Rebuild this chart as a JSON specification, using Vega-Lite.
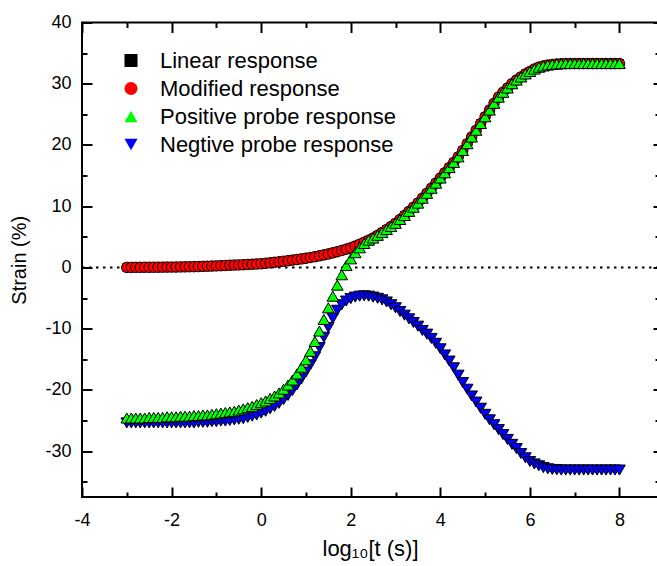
{
  "$schema": "https://vega.github.io/schema/vega-lite/v6.json",
  "autosize": {"type": "none"},
  "padding": {"left": 82, "top": 22.5, "right": 0, "bottom": 69},
  "width": 576,
  "height": 474.5,
  "background": "white",
  "config": {
    "view": {"stroke": "black", "strokeWidth": 2},
    "axis": {
      "domain": false, "tickColor": "black", "tickWidth": 2, "labelFlush": false,
      "labelFont": "Liberation Sans", "labelFontSize": 18, "labelColor": "black",
      "titleFont": "Liberation Sans", "titleFontWeight": "normal", "titleColor": "black",
      "grid": false
    },
    "legend": {
      "orient": "none", "legendX": 38, "legendY": 27, "title": null, "padding": 0,
      "labelFont": "Liberation Sans", "labelFontSize": 22, "labelColor": "black", "labelLimit": 400,
      "labelOffset": 18, "rowPadding": 6, "symbolSize": 170, "symbolStrokeColor": "black",
      "symbolStrokeWidth": 1, "symbolOpacity": 1
    }
  },
  "datasets": {
    "pts": [
{"s":"L","x":-3,"y":0},{"s":"L","x":-2.9,"y":0},{"s":"L","x":-2.8,"y":0.01},{"s":"L","x":-2.7,"y":0.01},{"s":"L","x":-2.6,"y":0.02},{"s":"L","x":-2.5,"y":0.02},{"s":"L","x":-2.4,"y":0.03},{"s":"L","x":-2.3,"y":0.03},{"s":"L","x":-2.2,"y":0.04},{"s":"L","x":-2.1,"y":0.05},
{"s":"L","x":-2,"y":0.05},{"s":"L","x":-1.9,"y":0.06},{"s":"L","x":-1.8,"y":0.08},{"s":"L","x":-1.7,"y":0.09},{"s":"L","x":-1.6,"y":0.11},{"s":"L","x":-1.5,"y":0.12},{"s":"L","x":-1.4,"y":0.14},{"s":"L","x":-1.3,"y":0.17},{"s":"L","x":-1.2,"y":0.19},{"s":"L","x":-1.1,"y":0.22},
{"s":"L","x":-1,"y":0.25},{"s":"L","x":-0.9,"y":0.28},{"s":"L","x":-0.8,"y":0.31},{"s":"L","x":-0.7,"y":0.35},{"s":"L","x":-0.6,"y":0.38},{"s":"L","x":-0.5,"y":0.41},{"s":"L","x":-0.4,"y":0.44},{"s":"L","x":-0.3,"y":0.48},{"s":"L","x":-0.2,"y":0.52},{"s":"L","x":-0.1,"y":0.56},
{"s":"L","x":0,"y":0.6},{"s":"L","x":0.1,"y":0.67},{"s":"L","x":0.2,"y":0.75},{"s":"L","x":0.3,"y":0.83},{"s":"L","x":0.4,"y":0.91},{"s":"L","x":0.5,"y":1},{"s":"L","x":0.6,"y":1.09},{"s":"L","x":0.7,"y":1.19},{"s":"L","x":0.8,"y":1.29},{"s":"L","x":0.9,"y":1.39},
{"s":"L","x":1,"y":1.5},{"s":"L","x":1.1,"y":1.62},{"s":"L","x":1.2,"y":1.75},{"s":"L","x":1.3,"y":1.89},{"s":"L","x":1.4,"y":2.04},{"s":"L","x":1.5,"y":2.2},{"s":"L","x":1.6,"y":2.38},{"s":"L","x":1.7,"y":2.57},{"s":"L","x":1.8,"y":2.77},{"s":"L","x":1.9,"y":2.98},
{"s":"L","x":2,"y":3.2},{"s":"L","x":2.1,"y":3.48},{"s":"L","x":2.2,"y":3.78},{"s":"L","x":2.3,"y":4.1},{"s":"L","x":2.4,"y":4.44},{"s":"L","x":2.5,"y":4.8},{"s":"L","x":2.6,"y":5.24},{"s":"L","x":2.7,"y":5.7},{"s":"L","x":2.8,"y":6.18},{"s":"L","x":2.9,"y":6.68},
{"s":"L","x":3,"y":7.2},{"s":"L","x":3.1,"y":7.83},{"s":"L","x":3.2,"y":8.48},{"s":"L","x":3.3,"y":9.15},{"s":"L","x":3.4,"y":9.82},{"s":"L","x":3.5,"y":10.5},{"s":"L","x":3.6,"y":11.3},{"s":"L","x":3.7,"y":12.1},{"s":"L","x":3.8,"y":12.93},{"s":"L","x":3.9,"y":13.76},
{"s":"L","x":4,"y":14.6},{"s":"L","x":4.1,"y":15.45},{"s":"L","x":4.2,"y":16.3},{"s":"L","x":4.3,"y":17.15},{"s":"L","x":4.4,"y":18.05},{"s":"L","x":4.5,"y":19.1},{"s":"L","x":4.6,"y":20.2},{"s":"L","x":4.7,"y":21.3},{"s":"L","x":4.8,"y":22.4},{"s":"L","x":4.9,"y":23.5},
{"s":"L","x":5,"y":24.6},{"s":"L","x":5.1,"y":25.7},{"s":"L","x":5.2,"y":26.8},{"s":"L","x":5.3,"y":27.8},{"s":"L","x":5.4,"y":28.6},{"s":"L","x":5.5,"y":29.3},{"s":"L","x":5.6,"y":30},{"s":"L","x":5.7,"y":30.6},{"s":"L","x":5.8,"y":31.1},{"s":"L","x":5.9,"y":31.6},
{"s":"L","x":6,"y":32},{"s":"L","x":6.1,"y":32.4},{"s":"L","x":6.2,"y":32.7},{"s":"L","x":6.3,"y":32.9},{"s":"L","x":6.4,"y":33.05},{"s":"L","x":6.5,"y":33.15},{"s":"L","x":6.6,"y":33.22},{"s":"L","x":6.7,"y":33.27},{"s":"L","x":6.8,"y":33.3},{"s":"L","x":6.9,"y":33.3},
{"s":"L","x":7,"y":33.3},{"s":"L","x":7.1,"y":33.3},{"s":"L","x":7.2,"y":33.3},{"s":"L","x":7.3,"y":33.3},{"s":"L","x":7.4,"y":33.3},{"s":"L","x":7.5,"y":33.3},{"s":"L","x":7.6,"y":33.3},{"s":"L","x":7.7,"y":33.3},{"s":"L","x":7.8,"y":33.3},{"s":"L","x":7.9,"y":33.3},{"s":"L","x":8,"y":33.3},

{"s":"M","x":-3,"y":0},{"s":"M","x":-2.9,"y":0},{"s":"M","x":-2.8,"y":0.01},{"s":"M","x":-2.7,"y":0.01},{"s":"M","x":-2.6,"y":0.02},{"s":"M","x":-2.5,"y":0.02},{"s":"M","x":-2.4,"y":0.03},{"s":"M","x":-2.3,"y":0.03},{"s":"M","x":-2.2,"y":0.04},{"s":"M","x":-2.1,"y":0.05},
{"s":"M","x":-2,"y":0.05},{"s":"M","x":-1.9,"y":0.06},{"s":"M","x":-1.8,"y":0.08},{"s":"M","x":-1.7,"y":0.09},{"s":"M","x":-1.6,"y":0.11},{"s":"M","x":-1.5,"y":0.12},{"s":"M","x":-1.4,"y":0.14},{"s":"M","x":-1.3,"y":0.17},{"s":"M","x":-1.2,"y":0.19},{"s":"M","x":-1.1,"y":0.22},
{"s":"M","x":-1,"y":0.25},{"s":"M","x":-0.9,"y":0.28},{"s":"M","x":-0.8,"y":0.31},{"s":"M","x":-0.7,"y":0.35},{"s":"M","x":-0.6,"y":0.38},{"s":"M","x":-0.5,"y":0.41},{"s":"M","x":-0.4,"y":0.44},{"s":"M","x":-0.3,"y":0.48},{"s":"M","x":-0.2,"y":0.52},{"s":"M","x":-0.1,"y":0.56},
{"s":"M","x":0,"y":0.6},{"s":"M","x":0.1,"y":0.67},{"s":"M","x":0.2,"y":0.75},{"s":"M","x":0.3,"y":0.83},{"s":"M","x":0.4,"y":0.91},{"s":"M","x":0.5,"y":1},{"s":"M","x":0.6,"y":1.09},{"s":"M","x":0.7,"y":1.19},{"s":"M","x":0.8,"y":1.29},{"s":"M","x":0.9,"y":1.39},
{"s":"M","x":1,"y":1.5},{"s":"M","x":1.1,"y":1.62},{"s":"M","x":1.2,"y":1.75},{"s":"M","x":1.3,"y":1.89},{"s":"M","x":1.4,"y":2.04},{"s":"M","x":1.5,"y":2.2},{"s":"M","x":1.6,"y":2.38},{"s":"M","x":1.7,"y":2.57},{"s":"M","x":1.8,"y":2.77},{"s":"M","x":1.9,"y":2.98},
{"s":"M","x":2,"y":3.2},{"s":"M","x":2.1,"y":3.48},{"s":"M","x":2.2,"y":3.78},{"s":"M","x":2.3,"y":4.1},{"s":"M","x":2.4,"y":4.44},{"s":"M","x":2.5,"y":4.8},{"s":"M","x":2.6,"y":5.24},{"s":"M","x":2.7,"y":5.7},{"s":"M","x":2.8,"y":6.18},{"s":"M","x":2.9,"y":6.68},
{"s":"M","x":3,"y":7.2},{"s":"M","x":3.1,"y":7.83},{"s":"M","x":3.2,"y":8.48},{"s":"M","x":3.3,"y":9.15},{"s":"M","x":3.4,"y":9.82},{"s":"M","x":3.5,"y":10.5},{"s":"M","x":3.6,"y":11.3},{"s":"M","x":3.7,"y":12.1},{"s":"M","x":3.8,"y":12.93},{"s":"M","x":3.9,"y":13.76},
{"s":"M","x":4,"y":14.6},{"s":"M","x":4.1,"y":15.45},{"s":"M","x":4.2,"y":16.3},{"s":"M","x":4.3,"y":17.15},{"s":"M","x":4.4,"y":18.05},{"s":"M","x":4.5,"y":19.1},{"s":"M","x":4.6,"y":20.2},{"s":"M","x":4.7,"y":21.3},{"s":"M","x":4.8,"y":22.4},{"s":"M","x":4.9,"y":23.5},
{"s":"M","x":5,"y":24.6},{"s":"M","x":5.1,"y":25.7},{"s":"M","x":5.2,"y":26.8},{"s":"M","x":5.3,"y":27.8},{"s":"M","x":5.4,"y":28.6},{"s":"M","x":5.5,"y":29.3},{"s":"M","x":5.6,"y":30},{"s":"M","x":5.7,"y":30.6},{"s":"M","x":5.8,"y":31.1},{"s":"M","x":5.9,"y":31.6},
{"s":"M","x":6,"y":32},{"s":"M","x":6.1,"y":32.4},{"s":"M","x":6.2,"y":32.7},{"s":"M","x":6.3,"y":32.9},{"s":"M","x":6.4,"y":33.05},{"s":"M","x":6.5,"y":33.15},{"s":"M","x":6.6,"y":33.22},{"s":"M","x":6.7,"y":33.27},{"s":"M","x":6.8,"y":33.3},{"s":"M","x":6.9,"y":33.3},
{"s":"M","x":7,"y":33.3},{"s":"M","x":7.1,"y":33.3},{"s":"M","x":7.2,"y":33.3},{"s":"M","x":7.3,"y":33.3},{"s":"M","x":7.4,"y":33.3},{"s":"M","x":7.5,"y":33.3},{"s":"M","x":7.6,"y":33.3},{"s":"M","x":7.7,"y":33.3},{"s":"M","x":7.8,"y":33.3},{"s":"M","x":7.9,"y":33.3},{"s":"M","x":8,"y":33.3},

{"s":"N","x":-3,"y":-25.4},{"s":"N","x":-2.9,"y":-25.4},{"s":"N","x":-2.8,"y":-25.4},{"s":"N","x":-2.7,"y":-25.4},{"s":"N","x":-2.6,"y":-25.4},{"s":"N","x":-2.5,"y":-25.4},{"s":"N","x":-2.4,"y":-25.4},{"s":"N","x":-2.3,"y":-25.4},{"s":"N","x":-2.2,"y":-25.4},{"s":"N","x":-2.1,"y":-25.4},
{"s":"N","x":-2,"y":-25.4},{"s":"N","x":-1.9,"y":-25.4},{"s":"N","x":-1.8,"y":-25.4},{"s":"N","x":-1.7,"y":-25.4},{"s":"N","x":-1.6,"y":-25.4},{"s":"N","x":-1.5,"y":-25.4},{"s":"N","x":-1.4,"y":-25.3},{"s":"N","x":-1.3,"y":-25.3},{"s":"N","x":-1.2,"y":-25.3},{"s":"N","x":-1.1,"y":-25.2},
{"s":"N","x":-1,"y":-25.2},{"s":"N","x":-0.9,"y":-25.1},{"s":"N","x":-0.8,"y":-25.1},{"s":"N","x":-0.7,"y":-25},{"s":"N","x":-0.6,"y":-24.9},{"s":"N","x":-0.5,"y":-24.8},{"s":"N","x":-0.4,"y":-24.7},{"s":"N","x":-0.3,"y":-24.5},{"s":"N","x":-0.2,"y":-24.3},{"s":"N","x":-0.1,"y":-24.1},
{"s":"N","x":0,"y":-23.8},{"s":"N","x":0.1,"y":-23.5},{"s":"N","x":0.2,"y":-23.1},{"s":"N","x":0.3,"y":-22.7},{"s":"N","x":0.4,"y":-22.2},{"s":"N","x":0.5,"y":-21.6},{"s":"N","x":0.6,"y":-20.9},{"s":"N","x":0.7,"y":-20.1},{"s":"N","x":0.8,"y":-19.2},{"s":"N","x":0.9,"y":-18.2},
{"s":"N","x":1,"y":-17.1},{"s":"N","x":1.1,"y":-15.9},{"s":"N","x":1.2,"y":-14.6},{"s":"N","x":1.3,"y":-13.1},{"s":"N","x":1.4,"y":-11.4},{"s":"N","x":1.5,"y":-9.8},{"s":"N","x":1.6,"y":-8.3},{"s":"N","x":1.7,"y":-7},{"s":"N","x":1.8,"y":-6.1},{"s":"N","x":1.9,"y":-5.5},
{"s":"N","x":2,"y":-5.1},{"s":"N","x":2.1,"y":-4.85},{"s":"N","x":2.2,"y":-4.7},{"s":"N","x":2.3,"y":-4.65},{"s":"N","x":2.4,"y":-4.7},{"s":"N","x":2.5,"y":-4.85},{"s":"N","x":2.6,"y":-5.05},{"s":"N","x":2.7,"y":-5.3},{"s":"N","x":2.8,"y":-5.65},{"s":"N","x":2.9,"y":-6.1},
{"s":"N","x":3,"y":-6.6},{"s":"N","x":3.1,"y":-7.2},{"s":"N","x":3.2,"y":-7.8},{"s":"N","x":3.3,"y":-8.4},{"s":"N","x":3.4,"y":-9},{"s":"N","x":3.5,"y":-9.6},{"s":"N","x":3.6,"y":-10.3},{"s":"N","x":3.7,"y":-10.9},{"s":"N","x":3.8,"y":-11.6},{"s":"N","x":3.9,"y":-12.4},
{"s":"N","x":4,"y":-13.3},{"s":"N","x":4.1,"y":-14.3},{"s":"N","x":4.2,"y":-15.3},{"s":"N","x":4.3,"y":-16.4},{"s":"N","x":4.4,"y":-17.6},{"s":"N","x":4.5,"y":-18.8},{"s":"N","x":4.6,"y":-19.9},{"s":"N","x":4.7,"y":-21},{"s":"N","x":4.8,"y":-22},{"s":"N","x":4.9,"y":-23},
{"s":"N","x":5,"y":-24},{"s":"N","x":5.1,"y":-24.9},{"s":"N","x":5.2,"y":-25.7},{"s":"N","x":5.3,"y":-26.5},{"s":"N","x":5.4,"y":-27.3},{"s":"N","x":5.5,"y":-28.1},{"s":"N","x":5.6,"y":-28.9},{"s":"N","x":5.7,"y":-29.6},{"s":"N","x":5.8,"y":-30.4},{"s":"N","x":5.9,"y":-31.1},
{"s":"N","x":6,"y":-31.7},{"s":"N","x":6.1,"y":-32.1},{"s":"N","x":6.2,"y":-32.4},{"s":"N","x":6.3,"y":-32.7},{"s":"N","x":6.4,"y":-32.9},{"s":"N","x":6.5,"y":-33},{"s":"N","x":6.6,"y":-33.05},{"s":"N","x":6.7,"y":-33.1},{"s":"N","x":6.8,"y":-33.1},{"s":"N","x":6.9,"y":-33.1},
{"s":"N","x":7,"y":-33.1},{"s":"N","x":7.1,"y":-33.1},{"s":"N","x":7.2,"y":-33.1},{"s":"N","x":7.3,"y":-33.1},{"s":"N","x":7.4,"y":-33.1},{"s":"N","x":7.5,"y":-33.1},{"s":"N","x":7.6,"y":-33.1},{"s":"N","x":7.7,"y":-33.1},{"s":"N","x":7.8,"y":-33.1},{"s":"N","x":7.9,"y":-33.1},{"s":"N","x":8,"y":-33.1},

{"s":"P","x":-3,"y":-24.6},{"s":"P","x":-2.9,"y":-24.6},{"s":"P","x":-2.8,"y":-24.6},{"s":"P","x":-2.7,"y":-24.6},{"s":"P","x":-2.6,"y":-24.6},{"s":"P","x":-2.5,"y":-24.5},{"s":"P","x":-2.4,"y":-24.5},{"s":"P","x":-2.3,"y":-24.5},{"s":"P","x":-2.2,"y":-24.5},{"s":"P","x":-2.1,"y":-24.4},
{"s":"P","x":-2,"y":-24.4},{"s":"P","x":-1.9,"y":-24.4},{"s":"P","x":-1.8,"y":-24.3},{"s":"P","x":-1.7,"y":-24.3},{"s":"P","x":-1.6,"y":-24.3},{"s":"P","x":-1.5,"y":-24.2},{"s":"P","x":-1.4,"y":-24.2},{"s":"P","x":-1.3,"y":-24.1},{"s":"P","x":-1.2,"y":-24.1},{"s":"P","x":-1.1,"y":-24},
{"s":"P","x":-1,"y":-23.9},{"s":"P","x":-0.9,"y":-23.8},{"s":"P","x":-0.8,"y":-23.7},{"s":"P","x":-0.7,"y":-23.6},{"s":"P","x":-0.6,"y":-23.5},{"s":"P","x":-0.5,"y":-23.3},{"s":"P","x":-0.4,"y":-23.1},{"s":"P","x":-0.3,"y":-22.9},{"s":"P","x":-0.2,"y":-22.7},{"s":"P","x":-0.1,"y":-22.4},
{"s":"P","x":0,"y":-22.1},{"s":"P","x":0.1,"y":-21.8},{"s":"P","x":0.2,"y":-21.4},{"s":"P","x":0.3,"y":-21},{"s":"P","x":0.4,"y":-20.5},{"s":"P","x":0.5,"y":-19.9},{"s":"P","x":0.6,"y":-19.2},{"s":"P","x":0.7,"y":-18.4},{"s":"P","x":0.8,"y":-17.4},{"s":"P","x":0.9,"y":-16.3},
{"s":"P","x":1,"y":-15.1},{"s":"P","x":1.1,"y":-13.7},{"s":"P","x":1.2,"y":-12.1},{"s":"P","x":1.3,"y":-10.4},{"s":"P","x":1.4,"y":-8.5},{"s":"P","x":1.5,"y":-6.6},{"s":"P","x":1.6,"y":-4.7},{"s":"P","x":1.7,"y":-2.9},{"s":"P","x":1.8,"y":-1.2},{"s":"P","x":1.9,"y":0.3},
{"s":"P","x":2,"y":1.4},{"s":"P","x":2.1,"y":2.4},{"s":"P","x":2.2,"y":3.2},{"s":"P","x":2.3,"y":3.9},{"s":"P","x":2.4,"y":4.44},{"s":"P","x":2.5,"y":4.8},{"s":"P","x":2.6,"y":5.24},{"s":"P","x":2.7,"y":5.7},{"s":"P","x":2.8,"y":6.18},{"s":"P","x":2.9,"y":6.68},
{"s":"P","x":3,"y":7.2},{"s":"P","x":3.1,"y":7.83},{"s":"P","x":3.2,"y":8.48},{"s":"P","x":3.3,"y":9.15},{"s":"P","x":3.4,"y":9.82},{"s":"P","x":3.5,"y":10.5},{"s":"P","x":3.6,"y":11.3},{"s":"P","x":3.7,"y":12.1},{"s":"P","x":3.8,"y":12.93},{"s":"P","x":3.9,"y":13.76},
{"s":"P","x":4,"y":14.6},{"s":"P","x":4.1,"y":15.45},{"s":"P","x":4.2,"y":16.3},{"s":"P","x":4.3,"y":17.15},{"s":"P","x":4.4,"y":18.05},{"s":"P","x":4.5,"y":19.1},{"s":"P","x":4.6,"y":20.2},{"s":"P","x":4.7,"y":21.3},{"s":"P","x":4.8,"y":22.4},{"s":"P","x":4.9,"y":23.5},
{"s":"P","x":5,"y":24.6},{"s":"P","x":5.1,"y":25.7},{"s":"P","x":5.2,"y":26.8},{"s":"P","x":5.3,"y":27.8},{"s":"P","x":5.4,"y":28.6},{"s":"P","x":5.5,"y":29.3},{"s":"P","x":5.6,"y":30},{"s":"P","x":5.7,"y":30.6},{"s":"P","x":5.8,"y":31.1},{"s":"P","x":5.9,"y":31.6},
{"s":"P","x":6,"y":32},{"s":"P","x":6.1,"y":32.4},{"s":"P","x":6.2,"y":32.7},{"s":"P","x":6.3,"y":32.9},{"s":"P","x":6.4,"y":33.05},{"s":"P","x":6.5,"y":33.15},{"s":"P","x":6.6,"y":33.22},{"s":"P","x":6.7,"y":33.27},{"s":"P","x":6.8,"y":33.3},{"s":"P","x":6.9,"y":33.3},
{"s":"P","x":7,"y":33.3},{"s":"P","x":7.1,"y":33.3},{"s":"P","x":7.2,"y":33.3},{"s":"P","x":7.3,"y":33.3},{"s":"P","x":7.4,"y":33.3},{"s":"P","x":7.5,"y":33.3},{"s":"P","x":7.6,"y":33.3},{"s":"P","x":7.7,"y":33.3},{"s":"P","x":7.8,"y":33.3},{"s":"P","x":7.9,"y":33.3},{"s":"P","x":8,"y":33.3}
    ]
  },
  "layer": [
    {
      "data": {"values": [{"a": -4, "b": 8.86, "v": 0}]},
      "mark": {"type": "rule", "color": "black", "strokeWidth": 2, "strokeDash": [2.5, 4.5]},
      "encoding": {
        "x": {"field": "a", "type": "quantitative", "scale": {"domain": [-4, 8.86], "nice": false, "zero": false},
              "axis": {"orient": "top", "labels": false, "title": null, "values": [-4,-3,-2,-1,0,1,2,3,4,5,6,7,8],
                       "tickSize": {"condition": {"test": "datum.value % 2 === 0", "value": -10}, "value": -5}}},
        "x2": {"field": "b"},
        "y": {"field": "v", "type": "quantitative", "scale": {"domain": [-37.5, 40], "nice": false, "zero": false},
              "axis": {"orient": "right", "labels": false, "title": null,
                       "values": [-35,-30,-25,-20,-15,-10,-5,0,5,10,15,20,25,30,35,40],
                       "tickSize": {"condition": {"test": "datum.value % 10 === 0", "value": -5}, "value": -3}}}
      }
    },
    {
      "data": {"name": "pts"},
      "transform": [{"filter": "datum.s === 'L'"}],
      "mark": {"type": "point", "filled": true, "stroke": "black", "strokeWidth": 1, "opacity": 1, "size": 64},
      "encoding": {
        "x": {"field": "x", "type": "quantitative", "scale": {"domain": [-4, 8.86], "nice": false, "zero": false}, "axis": null},
        "y": {"field": "y", "type": "quantitative", "scale": {"domain": [-37.5, 40], "nice": false, "zero": false}, "axis": null},
        "fill": {"field": "s", "type": "nominal",
                 "scale": {"domain": ["L", "M", "P", "N"], "range": ["#000000", "#ff0000", "#00ff00", "#0000ff"]},
                 "legend": {"labelExpr": "datum.value === 'L' ? 'Linear response' : datum.value === 'M' ? 'Modified response' : datum.value === 'P' ? 'Positive probe response' : 'Negtive probe response'"}},
        "shape": {"field": "s", "type": "nominal",
                  "scale": {"domain": ["L", "M", "P", "N"], "range": ["square", "circle", "triangle-up", "triangle-down"]},
                  "legend": {"labelExpr": "datum.value === 'L' ? 'Linear response' : datum.value === 'M' ? 'Modified response' : datum.value === 'P' ? 'Positive probe response' : 'Negtive probe response'"}}
      }
    },
    {
      "data": {"name": "pts"},
      "transform": [{"filter": "datum.s === 'M'"}],
      "mark": {"type": "point", "filled": true, "stroke": "black", "strokeWidth": 1, "opacity": 1, "size": 110},
      "encoding": {
        "x": {"field": "x", "type": "quantitative", "scale": {"domain": [-4, 8.86], "nice": false, "zero": false},
              "axis": {"orient": "bottom", "title": "log₁₀[t (s)]", "titleFontSize": 22, "titlePadding": 9,
                       "values": [-4,-3,-2,-1,0,1,2,3,4,5,6,7,8],
                       "tickSize": {"condition": {"test": "datum.value % 2 === 0", "value": -10}, "value": -5},
                       "labelExpr": "datum.value % 2 === 0 ? '' + datum.value : ''", "labelPadding": 24}},
        "y": {"field": "y", "type": "quantitative", "scale": {"domain": [-37.5, 40], "nice": false, "zero": false},
              "axis": {"orient": "left", "title": "Strain (%)", "titleFontSize": 20, "titlePadding": 15,
                       "values": [-35,-30,-25,-20,-15,-10,-5,0,5,10,15,20,25,30,35,40],
                       "tickSize": {"condition": {"test": "datum.value % 10 === 0", "value": -10}, "value": -5},
                       "labelExpr": "datum.value % 10 === 0 ? '' + datum.value : ''", "labelPadding": 21}},
        "fill": {"field": "s", "type": "nominal",
                 "scale": {"domain": ["L", "M", "P", "N"], "range": ["#000000", "#ff0000", "#00ff00", "#0000ff"]},
                 "legend": {"labelExpr": "datum.value === 'L' ? 'Linear response' : datum.value === 'M' ? 'Modified response' : datum.value === 'P' ? 'Positive probe response' : 'Negtive probe response'"}},
        "shape": {"field": "s", "type": "nominal",
                  "scale": {"domain": ["L", "M", "P", "N"], "range": ["square", "circle", "triangle-up", "triangle-down"]},
                  "legend": {"labelExpr": "datum.value === 'L' ? 'Linear response' : datum.value === 'M' ? 'Modified response' : datum.value === 'P' ? 'Positive probe response' : 'Negtive probe response'"}}
      }
    },
    {
      "data": {"name": "pts"},
      "transform": [{"filter": "datum.s === 'N' || datum.s === 'P'"}],
      "mark": {"type": "point", "filled": true, "stroke": "black", "strokeWidth": 1, "opacity": 1, "size": 135},
      "encoding": {
        "x": {"field": "x", "type": "quantitative", "scale": {"domain": [-4, 8.86], "nice": false, "zero": false}, "axis": null},
        "y": {"field": "y", "type": "quantitative", "scale": {"domain": [-37.5, 40], "nice": false, "zero": false}, "axis": null},
        "fill": {"field": "s", "type": "nominal",
                 "scale": {"domain": ["L", "M", "P", "N"], "range": ["#000000", "#ff0000", "#00ff00", "#0000ff"]},
                 "legend": {"labelExpr": "datum.value === 'L' ? 'Linear response' : datum.value === 'M' ? 'Modified response' : datum.value === 'P' ? 'Positive probe response' : 'Negtive probe response'"}},
        "shape": {"field": "s", "type": "nominal",
                  "scale": {"domain": ["L", "M", "P", "N"], "range": ["square", "circle", "triangle-up", "triangle-down"]},
                  "legend": {"labelExpr": "datum.value === 'L' ? 'Linear response' : datum.value === 'M' ? 'Modified response' : datum.value === 'P' ? 'Positive probe response' : 'Negtive probe response'"}}
      }
    }
  ],
  "resolve": {"axis": {"x": "independent", "y": "independent"}}
}
